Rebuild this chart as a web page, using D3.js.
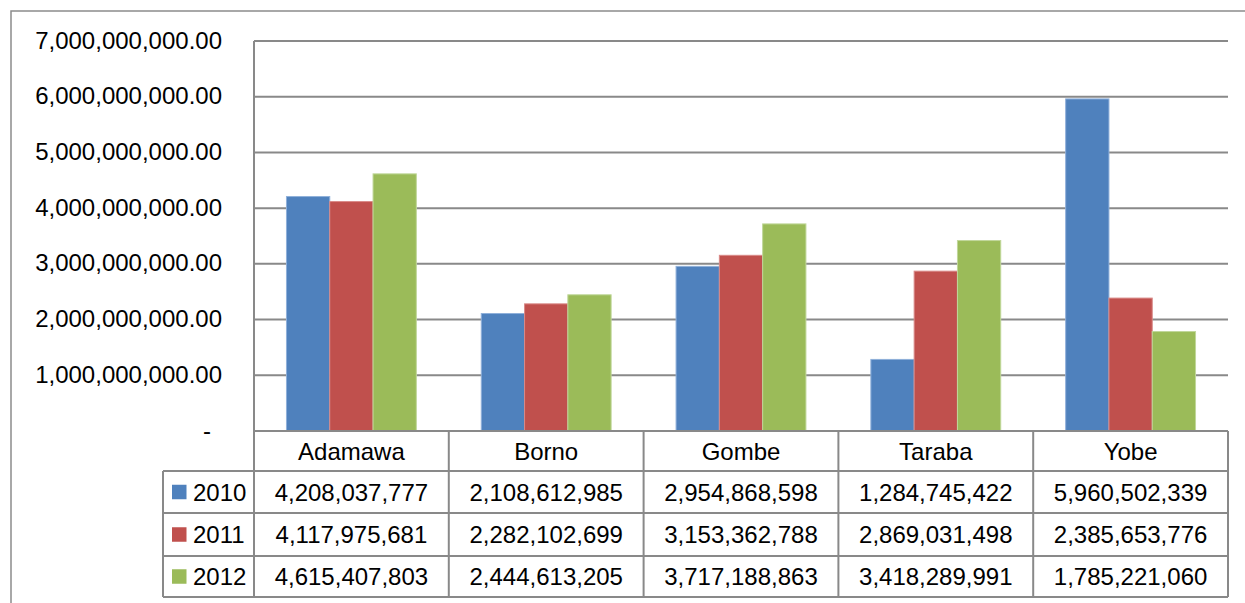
<!DOCTYPE html>
<html>
<head>
<meta charset="utf-8">
<script src="https://cdn.jsdelivr.net/npm/d3@7"></script>
<style>
  html, body { margin: 0; padding: 0; background: #fff; }
  svg { display: block; }
  text { font-family: "Liberation Sans", Arial, sans-serif; font-size: 24px; fill: #000; }
</style>
</head>
<body>
<svg id="chart" width="1245" height="603"></svg>
<script>
const categories = ["Adamawa", "Borno", "Gombe", "Taraba", "Yobe"];
const seriesNames = ["2010", "2011", "2012"];
const values2010 = [4208037777, 2108612985, 2954868598, 1284745422, 5960502339];
const values2011 = [4117975681, 2282102699, 3153362788, 2869031498, 2385653776];
const values2012 = [4615407803, 2444613205, 3717188863, 3418289991, 1785221060];
const seriesColors = ["#4F81BD", "#C0504D", "#9BBB59"];
const seriesStroke = ["#8fb0da", "#d98a88", "#c0d79a"];
const yTicks = [0, 1e9, 2e9, 3e9, 4e9, 5e9, 6e9, 7e9];

(function () {
const series = [values2010, values2011, values2012];

const svg = d3.select("#chart");
const gridColor = "#898989";

const plotLeft = 254, plotRight = 1228, plotTop = 41, plotBase = 431;
const rowEdges = [431, 471, 513, 556, 597];
const legendLeft = 163;

const y = d3.scaleLinear().domain([0, 7e9]).range([plotBase, plotTop]);
const x0 = d3.scaleBand().domain(categories).range([plotLeft, plotRight]).padding(0);
const bw = x0.bandwidth();
const x1 = d3.scaleBand().domain(seriesNames).range([bw / 6, bw * 5 / 6]).padding(0);

// outer frame
svg.append("path").attr("d", "M11,603 L11,11 L1245,11")
  .attr("fill", "none").attr("stroke", "#8c8c8c").attr("stroke-width", 1.5);

// gridlines
svg.append("g").selectAll("line").data(yTicks.filter(d => d > 0)).join("line")
  .attr("x1", plotLeft).attr("x2", plotRight)
  .attr("y1", d => y(d)).attr("y2", d => y(d))
  .attr("stroke", gridColor).attr("stroke-width", 2);

// y tick labels
const fmt = d3.format(",.2f");
svg.append("g").selectAll("text").data(yTicks).join("text")
  .attr("x", d => d === 0 ? 211 : 222)
  .attr("y", d => y(d) + 7.5)
  .attr("text-anchor", "end")
  .text(d => d === 0 ? "-" : fmt(d));

// bars
const g = svg.append("g");
categories.forEach((c, ci) => {
  seriesNames.forEach((s, si) => {
    const v = series[si][ci];
    g.append("rect")
      .attr("x", x0(c) + x1(s))
      .attr("y", y(v))
      .attr("width", x1.bandwidth())
      .attr("height", y(0) - y(v))
      .attr("fill", seriesColors[si])
      .attr("stroke", seriesStroke[si])
      .attr("stroke-width", 1);
  });
});

// table lines
const t = svg.append("g").attr("stroke", gridColor).attr("stroke-width", 2).attr("fill", "none");
rowEdges.forEach((ry, i) => {
  t.append("line").attr("x1", i === 0 ? plotLeft : legendLeft).attr("x2", plotRight)
    .attr("y1", ry).attr("y2", ry);
});
t.append("line").attr("x1", plotLeft).attr("x2", plotLeft).attr("y1", plotTop).attr("y2", rowEdges[4]);
t.append("line").attr("x1", legendLeft).attr("x2", legendLeft).attr("y1", rowEdges[1]).attr("y2", rowEdges[4]);
categories.forEach(c => {
  const xr = x0(c) + bw;
  t.append("line").attr("x1", xr).attr("x2", xr).attr("y1", rowEdges[0]).attr("y2", rowEdges[4]);
});

// category labels
svg.append("g").selectAll("text").data(categories).join("text")
  .attr("x", d => x0(d) + bw / 2)
  .attr("y", (rowEdges[0] + rowEdges[1]) / 2 + 8.6)
  .attr("text-anchor", "middle")
  .text(d => d);

// table values and legend
const vfmt = d3.format(",");
seriesNames.forEach((s, si) => {
  const cy = (rowEdges[si + 1] + rowEdges[si + 2]) / 2;
  svg.append("rect").attr("x", 172).attr("y", cy - 7.25).attr("width", 14.5).attr("height", 14.5)
    .attr("fill", seriesColors[si]);
  svg.append("text").attr("x", 193).attr("y", cy + 8.6).text(s);
  categories.forEach((c, ci) => {
    svg.append("text")
      .attr("x", x0(c) + bw / 2)
      .attr("y", cy + 8.6)
      .attr("text-anchor", "middle")
      .text(vfmt(series[si][ci]));
  });
});
})();
</script>
</body>
</html>
